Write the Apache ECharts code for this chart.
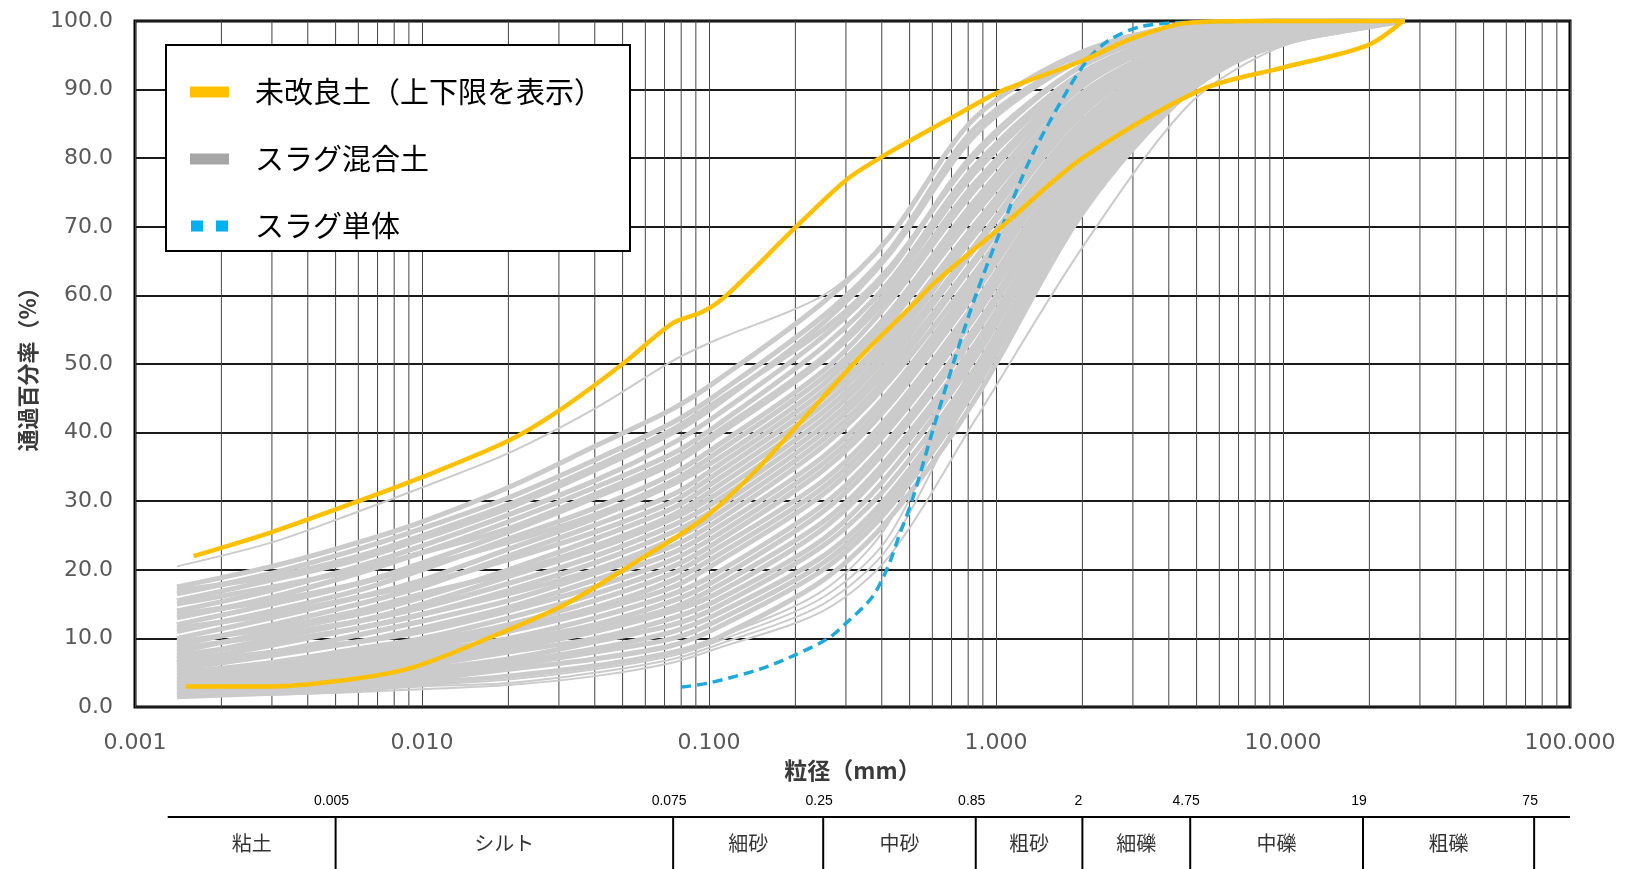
<!DOCTYPE html>
<html><head><meta charset="utf-8">
<script src="https://cdn.jsdelivr.net/npm/echarts@6/dist/echarts.min.js"></script>
<style>html,body{margin:0;padding:0;background:#fff}#c{width:1632px;height:869px}</style>
</head><body><div id="c"></div>
<script>
// ---- data (粒径 mm / 通過百分率 %) ----
const upperSizes = [0.0016, 0.003, 0.006, 0.01, 0.02, 0.03, 0.05, 0.075, 0.095, 0.115, 0.2, 0.3, 0.4, 0.55, 0.75, 1.02, 2.0, 3.0, 4.6, 8, 26.5];
const upperPass  = [22, 25.5, 30, 33.5, 38.8, 43.2, 50, 56, 57.6, 60, 69.9, 76.8, 80.2, 83.5, 86.6, 89.6, 94.2, 97.5, 99.7, 100, 100];
const lowerSizes = [0.0015, 0.003, 0.006, 0.0095, 0.0174, 0.032, 0.059, 0.096, 0.142, 0.203, 0.336, 0.51, 0.617, 1.08, 2.0, 5.2, 10, 19.6, 26.2];
const lowerPass  = [3.0, 3.0, 4.2, 5.9, 10.2, 15.1, 21.8, 27.5, 34, 41, 51, 58.5, 62, 70.5, 80, 90, 93.2, 96.4, 100];
const slagSizes  = [0.08, 0.1, 0.15, 0.2, 0.26, 0.3, 0.37, 0.42, 0.46, 0.51, 0.6, 0.71, 0.85, 1.05, 1.32, 1.78, 2.12, 2.5, 3.2, 4.6, 9.7];
const slagPass   = [2.9, 3.5, 5.5, 7.6, 10, 12.2, 16, 20.4, 25, 30.1, 40.1, 50.1, 60, 70, 80, 90, 94.7, 97.3, 99.2, 99.8, 100];

const mixSizes = [0.0014, 0.003, 0.006, 0.01, 0.02, 0.04, 0.075, 0.106, 0.25, 0.425, 0.85, 2, 4.75, 9.5, 19, 26.5];
const mix01 = [17.5, 20.5, 24, 27, 32, 38, 43.5, 47.5, 59, 68.5, 86, 95.5, 99.5, 100, 100, 100];
const mix02 = [16.5, 19.5, 23, 26, 30.5, 36, 41.5, 45.5, 57, 66.5, 84.5, 94.5, 99, 100, 100, 100];
const mix03 = [15.5, 18.5, 21.5, 24.5, 29, 34.5, 40, 44, 56, 66, 83.5, 94.5, 99.5, 100, 100, 100];
const mix04 = [17, 19, 22, 25, 29.5, 35, 40.5, 44.5, 55, 64, 80.5, 93.5, 99, 100, 100, 100];
const mix05 = [14, 17, 20.5, 23.5, 28, 33, 38.5, 42.5, 54, 63.5, 81, 93.5, 99, 100, 100, 100];
const mix06 = [13, 16, 19.5, 22.5, 27, 32, 37, 41, 52.5, 62, 79, 92.5, 98.5, 100, 100, 100];
const mix07 = [15, 17.5, 20, 22.5, 26, 31, 36, 40, 51, 61, 78, 92, 98.5, 100, 100, 100];
const mix08 = [12, 15, 18, 21, 25.5, 30.5, 35.5, 39.5, 50.5, 60, 76.5, 91.5, 98, 100, 100, 100];
const mix09 = [11, 14, 17, 20, 24.5, 29, 34, 38, 49, 59, 75.5, 91, 98, 99.5, 100, 100];
const mix10 = [13.5, 15.5, 18, 20.5, 24, 28, 33, 37, 48, 57.5, 74, 90.5, 98, 100, 100, 100];
const mix11 = [10, 13, 16, 18.5, 23, 27.5, 32.5, 36, 47, 57, 73, 89.5, 97.5, 99.5, 100, 100];
const mix12 = [9, 12, 15, 17.5, 22, 26.5, 31, 35, 46, 56, 72, 89, 97.5, 99.5, 100, 100];
const mix13 = [11.5, 13.5, 16, 18, 21.5, 25.5, 30, 34, 45, 54.5, 70.5, 88.5, 97, 99.5, 100, 100];
const mix14 = [8, 11, 13.5, 16, 20, 24.5, 29, 33, 44, 53.5, 69.5, 88, 97, 99.5, 100, 100];
const mix15 = [9.5, 11.5, 14, 16.5, 19.5, 23.5, 28, 32, 43, 52.5, 69, 87.5, 97, 99.5, 100, 100];
const mix16 = [7, 10, 12.5, 15, 19, 23, 27.5, 31, 42, 51.5, 67.5, 87, 96.5, 99, 100, 100];
const mix17 = [8.5, 10.5, 12.5, 14.5, 18, 22, 26.5, 30, 41, 50.5, 67, 86.5, 96.5, 99.5, 100, 100];
const mix18 = [6.5, 9, 11.5, 13.5, 17, 21, 25.5, 29, 40, 49.5, 65.5, 85.5, 96, 99, 100, 100];
const mix19 = [7.5, 9.5, 11.5, 13.5, 16.5, 20, 24.5, 28, 39, 48.5, 65, 85, 96, 99.5, 100, 100];
const mix20 = [6, 8, 10.5, 12.5, 15.5, 19.5, 23.5, 27, 38, 47.5, 63.5, 84.5, 95.5, 99, 100, 100];
const mix21 = [5.5, 7.5, 9.5, 11.5, 14.5, 18.5, 22.5, 26, 36.5, 46, 62.5, 84, 95.5, 99, 100, 100];
const mix22 = [6.5, 8, 9.5, 11, 14, 17.5, 21.5, 25, 35.5, 45, 61.5, 83.5, 95, 99, 100, 100];
const mix23 = [5, 6.5, 8.5, 10, 13, 16.5, 20.5, 24, 34.5, 44, 60.5, 82.5, 95, 99, 100, 100];
const mix24 = [4.5, 6, 8, 9.5, 12, 15.5, 19.5, 23, 33, 42.5, 59, 81.5, 94.5, 98.5, 100, 100];
const mix25 = [5, 6, 7.5, 9, 11.5, 14.5, 18.5, 22, 32, 41.5, 58, 81, 94, 98.5, 100, 100];
const mix26 = [4, 5.5, 7, 8.5, 11, 14, 17.5, 21, 31, 40.5, 57, 80, 94, 98.5, 100, 100];
const mix27 = [3.5, 5, 6.5, 8, 10, 13, 16.5, 19.5, 29.5, 39, 55.5, 79, 93.5, 98, 100, 100];
const mix28 = [4, 5, 6, 7.5, 9.5, 12, 15.5, 18.5, 28.5, 38, 54.5, 78.5, 93, 98, 99.5, 100];
const mix29 = [3, 4.5, 5.5, 7, 9, 11.5, 14.5, 17.5, 27, 36.5, 53, 77.5, 92.5, 98, 100, 100];
const mix30 = [3.5, 4, 5, 6.5, 8.5, 11, 14, 16.5, 26, 35.5, 52, 77, 92.5, 97.5, 99.5, 100];
const mix31 = [2.5, 3.5, 4.5, 6, 8, 10, 13, 15.5, 24.5, 34, 51, 76, 92, 97.5, 100, 100];
const mix32 = [3, 3.5, 4.5, 5.5, 7, 9.5, 12, 14.5, 23.5, 32.5, 49.5, 75, 91.5, 97, 99.5, 100];
const mix33 = [2, 3, 4, 5, 6.5, 8.5, 11, 13.5, 22, 31, 48.5, 74.5, 91, 97, 99.5, 100];
const mix34 = [2.5, 3, 3.5, 4.5, 6, 8, 10, 12.5, 21, 30, 47.5, 74, 91, 97, 99.5, 100];
const mix35 = [1.8, 2.5, 3, 4, 5.5, 7, 9, 11.5, 20, 29, 46.5, 73, 90.5, 96.5, 99, 100];
const mix36 = [1.5, 2, 2.5, 3.5, 4.5, 6, 8, 10, 18.5, 27.5, 45, 72, 90, 96.5, 99, 100];
const mix37 = [20.5, 24, 28.5, 32, 37, 43.5, 50.5, 53.5, 60, 68.5, 86, 95, 99.5, 100, 100, 100];
const mix38 = [2, 2.5, 3, 3.5, 4.5, 6, 8, 10, 17, 27, 55, 79, 92.5, 97.5, 100, 100];
const mix39 = [1.8, 2.2, 2.8, 3.2, 4, 5.5, 7.5, 9.5, 16, 25, 51, 76, 91, 97, 99.5, 100];
const mix40 = [1.5, 2, 2.5, 3, 3.5, 5, 7, 9, 15, 23.5, 47, 72, 89.5, 96.5, 99, 100];
const mix41 = [1.5, 1.8, 2.2, 2.6, 3.2, 4.5, 6.5, 8.5, 14, 22, 42, 67, 88, 96, 99, 100];
const mixSamples = [mix01, mix02, mix03, mix04, mix05, mix06, mix07, mix08, mix09, mix10, mix11, mix12, mix13, mix14,
  mix15, mix16, mix17, mix18, mix19, mix20, mix21, mix22, mix23, mix24, mix25, mix26, mix27, mix28, mix29, mix30,
  mix31, mix32, mix33, mix34, mix35, mix36, mix37, mix38, mix39, mix40, mix41];
const thinSamples = [mix37, mix38, mix39, mix40, mix41];   // drawn with a thin stroke (outliers)

// 粒度区分表
const tableStart = 0.0013;
const classBoundaries = [0.005, 0.075, 0.25, 0.85, 2, 4.75, 19, 75];
const boundaryLabels = ['0.005', '0.075', '0.25', '0.85', '2', '4.75', '19', '75'];
const classNames = ['粘土', 'シルト', '細砂', '中砂', '粗砂', '細礫', '中礫', '粗礫'];

const NAME_UNIMP = '未改良土（上下限を表示）';
const NAME_MIX = 'スラグ混合土';
const NAME_SLAG = 'スラグ単体';

// ---- build ----
const zip = (xs, ys) => xs.map((x, i) => [x, ys[i]]);
const minorGrid = [];
for (let e = -3; e < 2; e++) for (let m = 2; m <= 9; m++) minorGrid.push(+(m * Math.pow(10, e)).toPrecision(3));

const series = [];
// minor vertical gridlines (2..9 of each decade) drawn through the log axis
series.push({
  type: 'custom', xAxisIndex: 0, yAxisIndex: 0, silent: true, z: 1,
  data: minorGrid.map(v => [v]),
  renderItem: (params, api) => {
    const t = api.coord([api.value(0), 100]);
    const b = api.coord([api.value(0), 0]);
    return { type: 'line', shape: { x1: t[0], y1: t[1], x2: b[0], y2: b[1] }, style: { stroke: '#454545', lineWidth: 1 } };
  }
});
mixSamples.forEach(s => {
  const thin = thinSamples.indexOf(s) >= 0;
  series.push({
    name: NAME_MIX, type: 'line', data: zip(mixSizes, s), symbol: 'none', smooth: 0.3, z: 2,
    lineStyle: { color: '#cbcbcb', width: thin ? 2 : 5 }, itemStyle: { color: '#cbcbcb' }, silent: true
  });
});
series.push({
  name: NAME_SLAG, type: 'line', data: zip(slagSizes, slagPass), symbol: 'none', smooth: 0.3, z: 3,
  lineStyle: { color: '#1fa8dc', width: 3.5, type: [10, 6] }, itemStyle: { color: '#00B0F0' }
});
series.push({
  name: NAME_UNIMP, type: 'line', data: zip(upperSizes, upperPass), symbol: 'none', smooth: 0.3, z: 4,
  lineStyle: { color: '#FFC000', width: 4.5 }, itemStyle: { color: '#FFC000' }
});
series.push({
  name: NAME_UNIMP, type: 'line', data: zip(lowerSizes, lowerPass), symbol: 'none', smooth: 0.3, z: 4,
  lineStyle: { color: '#FFC000', width: 4.5 }, itemStyle: { color: '#FFC000' }
});
// classification table under the chart
series.push({
  type: 'line', xAxisIndex: 1, yAxisIndex: 1, data: [[tableStart, 1], [100, 1]], symbol: 'none', clip: false, silent: true,
  lineStyle: { color: '#000', width: 2 }
});
series.push({
  type: 'custom', xAxisIndex: 1, yAxisIndex: 1, silent: true, clip: false,
  data: classBoundaries.map(v => [v]),
  renderItem: (params, api) => {
    const t = api.coord([api.value(0), 1]);
    const b = api.coord([api.value(0), 0]);
    return { type: 'group', children: [
      { type: 'line', shape: { x1: t[0], y1: t[1], x2: b[0], y2: b[1] }, style: { stroke: '#000', lineWidth: 2 } },
      { type: 'text', x: t[0] - 4, y: t[1] - 9,
        style: { text: boundaryLabels[params.dataIndex], align: 'center', verticalAlign: 'bottom',
          fill: '#000', fontSize: 14, fontFamily: 'Liberation Sans' } }
    ] };
  }
});
const edges = [tableStart].concat(classBoundaries);
series.push({
  type: 'scatter', xAxisIndex: 1, yAxisIndex: 1, symbolSize: 1, silent: true,
  itemStyle: { color: 'transparent' },
  label: { show: true, position: 'inside', color: '#000', fontSize: 20, fontFamily: 'Noto Sans CJK JP',
    formatter: p => classNames[p.dataIndex] },
  data: classNames.map((n, i) => [Math.sqrt(edges[i] * edges[i + 1]), 0.5])
});

const option = {
  animation: false,
  backgroundColor: '#fff',
  grid: [
    { left: 135, right: 62, top: 21, bottom: 162, show: true, borderColor: '#000', borderWidth: 3, backgroundColor: 'transparent' },
    { left: 135, right: 62, top: 817, bottom: 0 }
  ],
  xAxis: [
    { type: 'log', logBase: 10, min: 0.001, max: 100, gridIndex: 0,
      name: '粒径（mm）', nameLocation: 'middle', nameGap: 43,
      nameTextStyle: { fontSize: 23, fontWeight: 'bold', color: '#3a3a3a', fontFamily: 'Noto Sans CJK JP' },
      axisLine: { show: false }, axisTick: { show: false },
      axisLabel: { fontSize: 22, color: '#595959', fontFamily: 'DejaVu Sans', margin: 25, formatter: v => Number(v).toFixed(3) },
      splitLine: { show: true, lineStyle: { color: '#454545', width: 1 } } },
    { type: 'log', logBase: 10, min: 0.001, max: 100, gridIndex: 1, show: false }
  ],
  yAxis: [
    { type: 'value', min: 0, max: 100, interval: 10, gridIndex: 0,
      name: '通過百分率（%）', nameLocation: 'middle', nameGap: 95,
      nameTextStyle: { fontSize: 22, fontWeight: 'bold', color: '#3a3a3a', fontFamily: 'Noto Sans CJK JP' },
      axisLine: { show: false }, axisTick: { show: false },
      axisLabel: { fontSize: 22, color: '#595959', fontFamily: 'DejaVu Sans', margin: 22, formatter: v => v.toFixed(1) },
      splitLine: { show: true, lineStyle: { color: '#1a1a1a', width: 1.8 } } },
    { type: 'value', min: 0, max: 1, gridIndex: 1, show: false }
  ],
  legend: {
    orient: 'vertical', left: 166, top: 45,
    backgroundColor: '#fff', borderColor: '#000', borderWidth: 2,
    padding: [32, 27, 10, 24], itemGap: 37, itemWidth: 39, itemHeight: 11,
    itemStyle: { borderWidth: 0 },
    textStyle: { fontSize: 29, color: '#000', fontFamily: 'Noto Sans CJK JP', lineHeight: 30, padding: [0, 0, 0, 21] },
    selectedMode: false,
    data: [
      { name: NAME_UNIMP, icon: 'rect', itemStyle: { color: '#FFC000', borderWidth: 0 } },
      { name: NAME_MIX, icon: 'rect', itemStyle: { color: '#A6A6A6', borderWidth: 0 } },
      { name: NAME_SLAG, icon: 'path://M0,0h12v11h-12z M25,0h12v11h-12z', itemStyle: { color: '#00B0F0', borderWidth: 0 } }
    ]
  },
  series: series
};
const chart = echarts.init(document.getElementById('c'), null, { renderer: 'canvas' });
chart.setOption(option);
</script>
</body></html>
